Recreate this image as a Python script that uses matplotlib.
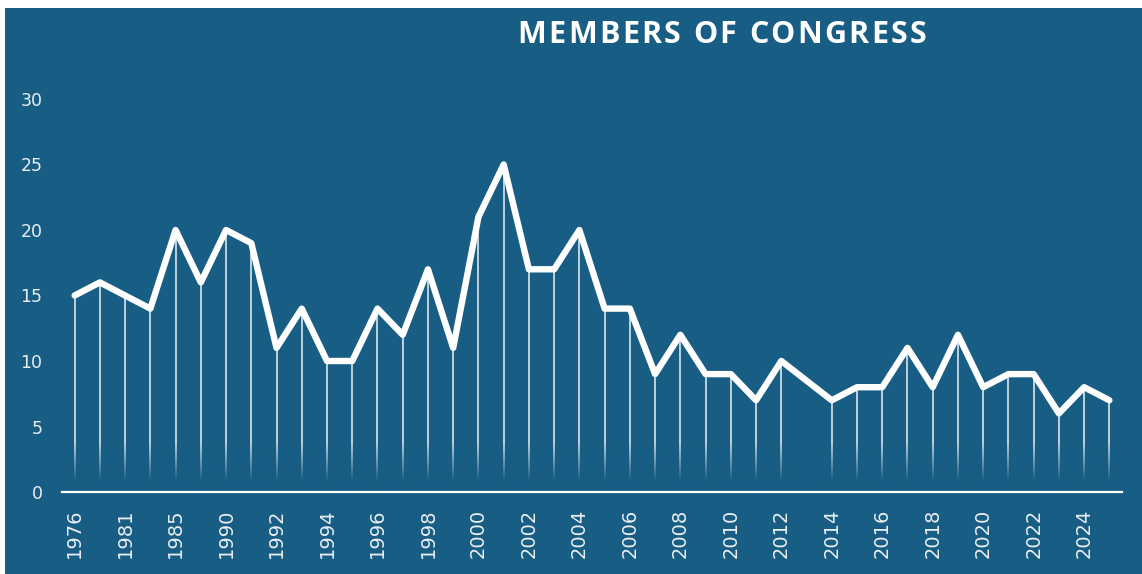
import numpy as np
import matplotlib
matplotlib.use("Agg")
import matplotlib.pyplot as plt
from matplotlib.patches import Rectangle
from matplotlib.colors import to_rgb

# yearly counts; 2013 has no entry
years = ['1976', '1979', '1981', '1983', '1985', '1987', '1990', '1991'] + \
        [str(y) for y in range(1992, 2026)]
members = [15, 16, 15, 14, 20, 16, 20, 19,
           11, 14, 10, 10, 14, 12, 17, 11, 21, 25, 17, 17,
           20, 14, 14, 9, 12, 9, 9, 7, 10, np.nan,
           7, 8, 8, 11, 8, 12, 8, 9, 9, 6, 8, 7]
yticks = [0, 5, 10, 15, 20, 25, 30]
title = 'MEMBERS OF CONGRESS'

bg = '#185d83'
W, H = 1142, 574

fig = plt.figure(figsize=(W / 100, H / 100), dpi=100, facecolor='white')
fig.patches.append(Rectangle((5 / W, 0), 1 - 5 / W, (H - 8) / H,
                             transform=fig.transFigure, facecolor=bg,
                             edgecolor='none', zorder=0))

ax = fig.add_axes([62 / W, (H - 492) / H, (1122 - 62) / W, 432.3 / H])
ax.set_zorder(2)
ax.set_facecolor('none')

x = np.arange(len(years))
y = np.array(members, dtype=float)
ok = ~np.isnan(y)

# thin drop lines from each point to the baseline
ax.vlines(x[ok], 0, y[ok], color='white', lw=1.2, alpha=0.85, zorder=2)

# fade the drop lines out near the baseline
ramp = np.clip((np.linspace(0, 4, 200) - 0.8) / 3.0, 0, 1)
grad = np.zeros((200, 1, 4))
grad[..., :3] = to_rgb(bg)
grad[:, 0, 3] = 1 - ramp
ax.imshow(grad, extent=(-0.5, len(years) - 0.5, 0, 4), origin='lower',
          aspect='auto', interpolation='bilinear', zorder=3)

ax.plot(x[ok], y[ok], color='white', lw=4.6, solid_joinstyle='round',
        solid_capstyle='round', zorder=4)

ax.set_xlim(-0.5, len(years) - 0.5)
ax.set_ylim(0, 33)
ax.set_yticks(yticks)
ax.set_yticklabels([str(t) for t in yticks])
ax.set_xticks(x[::2])
ax.set_xticklabels(years[::2], rotation=90)
ax.tick_params(axis='y', length=0, pad=14, labelsize=12.5, labelcolor='#e9eef2')
ax.tick_params(axis='x', length=0, pad=12, labelsize=14, labelcolor='#e9eef2')

for side in ['top', 'left', 'right']:
    ax.spines[side].set_visible(False)
ax.spines['bottom'].set_color('white')
ax.spines['bottom'].set_linewidth(1.6)
ax.spines['bottom'].set_zorder(5)

# letter-spaced title: lay the characters out one by one
renderer = fig.canvas.get_renderer()
style = dict(fontsize=22, fontweight='bold', color='white', family='Open Sans',
             va='center', ha='left')
tracking = 2.3
space_w = 8
widths = []
for ch in title:
    if ch == ' ':
        widths.append(space_w)
        continue
    t = fig.text(0, 0, ch, **style)
    widths.append(t.get_window_extent(renderer).width)
    t.remove()
total = sum(widths) + tracking * (len(title) - 1)
xpos = 722 - total / 2
for ch, w in zip(title, widths):
    if ch != ' ':
        fig.text(xpos / W, 1 - 35 / H, ch, **style)
    xpos += w + tracking

fig.savefig('out.png', dpi=100, facecolor='white')
